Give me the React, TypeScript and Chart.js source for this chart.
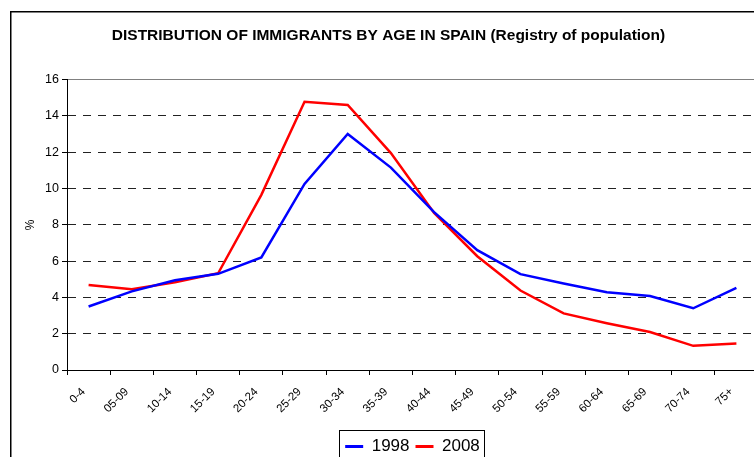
import React, { useEffect, useRef } from "react";
import { Chart, registerables } from "chart.js";

Chart.register(...registerables);

const categories = ["0-4", "05-09", "10-14", "15-19", "20-24", "25-29", "30-34", "35-39", "40-44", "45-49", "50-54", "55-59", "60-64", "65-69", "70-74", "75+"];
const series1998 = [3.5, 4.33, 4.94, 5.3, 6.2, 10.25, 13.0, 11.15, 8.7, 6.6, 5.28, 4.77, 4.28, 4.08, 3.4, 4.53];
const series2008 = [4.68, 4.45, 4.84, 5.33, 9.65, 14.78, 14.6, 11.95, 8.65, 6.27, 4.38, 3.12, 2.58, 2.09, 1.33, 1.46];
const seriesNames = ["1998", "2008"];
const yTicks = [0, 2, 4, 6, 8, 10, 12, 14, 16];
const titleText = "DISTRIBUTION OF IMMIGRANTS BY AGE IN SPAIN (Registry of population)";
const yTitle = "%";

const FONT = "'Liberation Sans', Arial, sans-serif";

const framePlugin = {
  id: "frame",
  beforeDraw(chart: any) {
    const ctx = chart.ctx;
    ctx.save();
    ctx.fillStyle = "#fff";
    ctx.fillRect(0, 0, chart.width, chart.height);
    ctx.strokeStyle = "#000";
    ctx.lineWidth = 1.5;
    ctx.strokeRect(10.75, 11.75, 2000, 2000);
    ctx.restore();
  },
};

const legendBoxPlugin = {
  id: "legendBox",
  afterDraw(chart: any) {
    const hb = chart.legend && chart.legend.legendHitBoxes;
    if (!hb || !hb.length) return;
    let l = Infinity, r = -Infinity, t = Infinity;
    hb.forEach((b: any) => {
      l = Math.min(l, b.left);
      r = Math.max(r, b.left + b.width);
      t = Math.min(t, b.top);
    });
    const ctx = chart.ctx;
    ctx.save();
    ctx.strokeStyle = "#000";
    ctx.lineWidth = 1;
    ctx.strokeRect(Math.round(l - 6) + 0.5, Math.round(t - 8) + 0.5, Math.round(r - l + 10), 100);
    ctx.restore();
  },
};

export default function App() {
  const ref = useRef<HTMLCanvasElement | null>(null);
  useEffect(() => {
    if (!ref.current) return;
    const chart = new Chart(ref.current, {
      type: "line",
      data: {
        labels: categories,
        datasets: [
          { label: seriesNames[0], data: series1998, borderColor: "#0000FF", backgroundColor: "#0000FF", borderWidth: 2.5, pointRadius: 0, tension: 0, fill: false },
          { label: seriesNames[1], data: series2008, borderColor: "#FF0000", backgroundColor: "#FF0000", borderWidth: 2.5, pointRadius: 0, tension: 0, fill: false },
        ],
      },
      options: {
        animation: false,
        responsive: false,
        devicePixelRatio: 1,
        layout: { padding: { left: 19, right: 42, top: 0, bottom: 0 } },
        plugins: {
          tooltip: { enabled: false },
          title: {
            display: true,
            text: titleText,
            color: "#000",
            font: { family: FONT, size: 15.5, weight: "bold" },
            padding: { top: 26, bottom: 35 },
          },
          legend: {
            display: true,
            position: "bottom",
            fullSize: false,
            labels: {
              color: "#000",
              font: { family: FONT, size: 17 },
              boxWidth: 18,
              boxHeight: 3,
              padding: 6,
              generateLabels: (c: any) =>
                Chart.defaults.plugins.legend.labels.generateLabels(c).map((it: any) => ({ ...it, lineWidth: 0 })),
            },
          },
        },
        scales: {
          x: {
            type: "category",
            offset: true,
            grid: { display: true, offset: true, drawOnChartArea: false, drawTicks: true, tickLength: 5, tickColor: "#000" },
            border: { display: true, color: "#000", width: 1 },
            ticks: { color: "#000", font: { family: FONT, size: 11.5 }, maxRotation: 45, minRotation: 45, autoSkip: false, padding: 10, labelOffset: -5 },
            afterFit: (s: any) => { s.height = 62; },
          },
          y: {
            min: 0,
            max: 16,
            afterBuildTicks: (s: any) => { s.ticks = yTicks.map((v) => ({ value: v })); },
            title: { display: true, text: yTitle, color: "#000", font: { family: FONT, size: 12 } },
            grid: {
              color: (c: any) => (c.tick && c.tick.value === 16 ? "#808080" : c.tick && c.tick.value === 0 ? "rgba(0,0,0,0)" : "#222"),
              tickColor: "#000",
              tickLength: 5,
              lineWidth: 1,
            },
            border: {
              display: true,
              color: "#000",
              width: 1,
              dash: (c: any) => (c.tick && c.tick.value !== 16 ? [8, 7] : []),
            },
            ticks: { color: "#000", font: { family: FONT, size: 12.5 }, padding: 3 },
            afterFit: (s: any) => { s.width = 48; },
          },
        },
      },
      plugins: [framePlugin, legendBoxPlugin],
    } as any);
    return () => chart.destroy();
  }, []);
  return (
    <div style={{ position: "fixed", left: 0, top: 0, width: 754, height: 457, overflow: "hidden", background: "#fff" }}>
      <canvas ref={ref} width={800} height={465} style={{ width: 800, height: 465, display: "block" }} />
    </div>
  );
}
